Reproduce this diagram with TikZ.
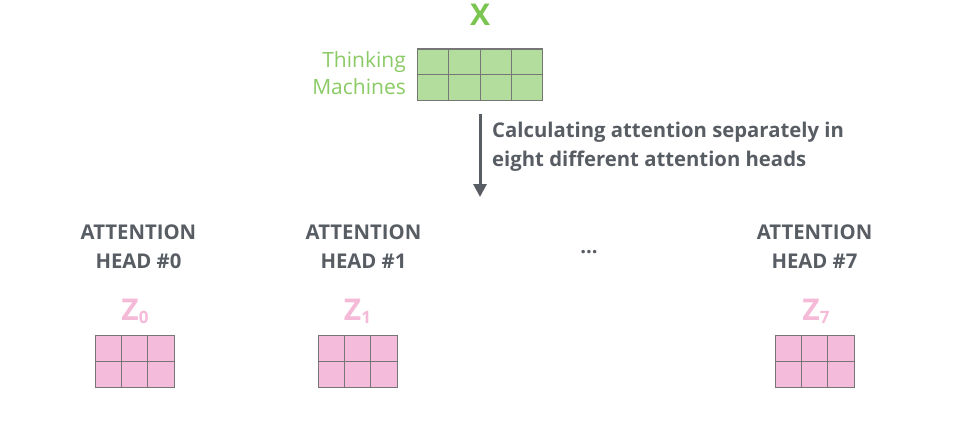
\documentclass[tikz,border=0pt]{standalone}
\usepackage{fontspec}
\setmainfont{Open Sans}
\usepackage{xcolor}
\usepackage{tikz}
\usetikzlibrary{arrows.meta,positioning}
\definecolor{inkgray}{RGB}{88,93,100}
\definecolor{xgreen}{RGB}{122,196,80}
\definecolor{wordgreen}{RGB}{138,202,100}
\definecolor{cellgreen}{RGB}{178,221,156}
\definecolor{zpink}{RGB}{245,186,216}
\definecolor{cellpink}{RGB}{244,188,218}
\definecolor{celledge}{RGB}{118,118,118}
\newcommand{\zhead}[1]{Z\raisebox{-3pt}{\fontsize{17}{17}\selectfont #1}}

\begin{document}
\begin{tikzpicture}[
  x=1pt, y=-1pt,
  txt/.style={font=\fontsize{20.3}{29}\selectfont\bfseries, text=inkgray, inner sep=0pt},
  head/.style={txt, align=center},
  mat/.style={draw=celledge, line width=1pt, inner sep=0pt, outer sep=0pt, minimum height=52pt},
  inmat/.style={mat, fill=cellgreen, minimum width=125pt},
  outmat/.style={mat, fill=cellpink, minimum width=79pt},
  zlbl/.style={font=\fontsize{30}{30}\selectfont\bfseries, text=zpink, inner sep=0pt, anchor=base},
  flow/.style={-{Triangle[width=13pt,length=13pt]}, line width=3pt, draw=inkgray}
]
  \useasboundingbox (0,0) rectangle (973,433);

  % input matrix
  \node[inmat] (xmat) at (480,75) {};
  \draw[celledge, line width=1pt, shift={(xmat.south west)}] (0pt,0pt) grid[xstep=31.25pt, ystep=26pt] (125pt,52pt);
  \node[font=\fontsize{30}{30}\selectfont\bfseries, text=xgreen, inner sep=0pt] (xlbl) at (480,15) {X};
  \node[font=\fontsize{21}{27}\selectfont, text=wordgreen, align=right, inner sep=0pt, anchor=east] (words) at (406,73) {Thinking\\Machines};

  % split into heads
  \coordinate (astart) at (480,114);
  \coordinate (aend) at (480,197);
  \draw[flow] (astart) -- (aend);
  \node[txt, align=left, anchor=west] (note) at (492,147) {Calculating attention separately in\\eight different attention heads};

  % heads
  \node[head] (head0) at (138.5,247) {ATTENTION\\HEAD \#0};
  \node[head] (head1) at (363.5,247) {ATTENTION\\HEAD \#1};
  \node[head] (head7) at (814.5,247) {ATTENTION\\HEAD \#7};
  \node[txt, anchor=base] (dots) at (589,253) {...};

  % outputs
  \node[zlbl] (z0) at (135,320) {\zhead{0}};
  \node[zlbl] (z1) at (357.5,320) {\zhead{1}};
  \node[zlbl] (z7) at (816,320) {\zhead{7}};

  \node[outmat] (zmat0) at (134.5,361) {};
  \node[outmat] (zmat1) at (357.5,361) {};
  \node[outmat] (zmat7) at (814.5,361) {};
  \draw[celledge, line width=1pt, shift={(zmat0.south west)}] (0pt,0pt) grid[xstep=26.333pt, ystep=26pt] (79pt,52pt);
  \draw[celledge, line width=1pt, shift={(zmat1.south west)}] (0pt,0pt) grid[xstep=26.333pt, ystep=26pt] (79pt,52pt);
  \draw[celledge, line width=1pt, shift={(zmat7.south west)}] (0pt,0pt) grid[xstep=26.333pt, ystep=26pt] (79pt,52pt);
\end{tikzpicture}
\end{document}
